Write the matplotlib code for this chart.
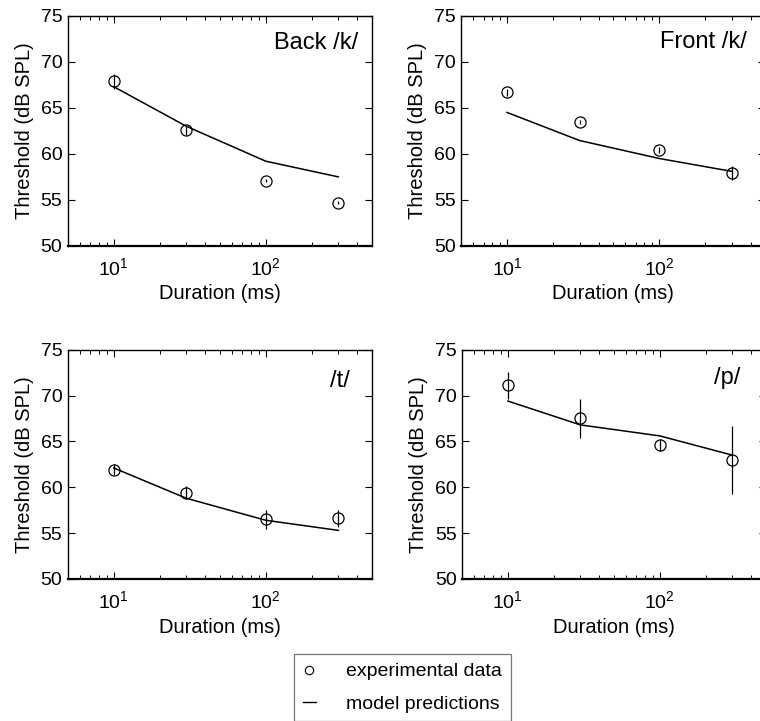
import numpy as np
import matplotlib
matplotlib.use('Agg')
import matplotlib.pyplot as plt
from matplotlib.lines import Line2D

plt.rcParams['font.family'] = ['Liberation Sans', 'DejaVu Sans']
plt.rcParams['mathtext.fontset'] = 'custom'
plt.rcParams['mathtext.rm'] = 'Liberation Sans'
plt.rcParams['mathtext.default'] = 'regular'

# === Data ===
durations = [10, 30, 100, 300]
panel_titles = ['Back /k/', 'Front /k/', '/t/', '/p/']

back_k_data = [67.9, 62.6, 57.1, 54.7]
back_k_err = [0.8, 0.5, 0.2, 0.2]
back_k_model = [67.3, 63.0, 59.2, 57.5]

front_k_data = [66.7, 63.5, 60.4, 57.9]
front_k_err = [0.4, 0.2, 0.3, 0.75]
front_k_model = [64.5, 61.45, 59.5, 58.1]

t_data = [61.9, 59.4, 56.5, 56.6]
t_err = [0.6, 0.7, 1.0, 0.9]
t_model = [62.1, 58.8, 56.4, 55.3]

p_data = [71.1, 67.5, 64.6, 63.0]
p_err = [1.5, 2.15, 0.7, 3.7]
p_model = [69.4, 66.8, 65.6, 63.5]

yticks = [50, 55, 60, 65, 70, 75]

panels = [
    (back_k_data, back_k_err, back_k_model),
    (front_k_data, front_k_err, front_k_model),
    (t_data, t_err, t_model),
    (p_data, p_err, p_model),
]

# axes rectangles [left, bottom, width, height] in figure fractions
rects = [
    [0.0895, 0.659, 0.400, 0.319],
    [0.607, 0.659, 0.400, 0.319],
    [0.0895, 0.197, 0.400, 0.318],
    [0.608, 0.197, 0.400, 0.318],
]
label_pos = [(0.954, 0.883), (0.94, 0.885), (0.928, 0.862), (0.915, 0.878)]

fig = plt.figure(figsize=(7.6, 7.21), dpi=100)

for (data, err, model), rect, title, lp in zip(panels, rects, panel_titles, label_pos):
    ax = fig.add_axes(rect)
    ax.plot(durations, model, color='black', lw=1.1)
    ax.errorbar(durations, data, yerr=err, fmt='o', mfc='none', mec='black',
                ecolor='black', elinewidth=0.9, capsize=0, ms=8, mew=0.9)
    ax.set_xscale('log')
    ax.set_xlim(5, 500)
    ax.set_ylim(50, 75)
    ax.set_yticks(yticks)
    ax.tick_params(which='both', direction='in', top=True, right=True, labelsize=14)
    ax.tick_params(which='major', length=5, width=0.8)
    ax.tick_params(which='minor', length=3, width=0.7)
    ax.tick_params(axis='x', pad=8)
    ax.tick_params(axis='y', pad=4)
    for s in ax.spines.values():
        s.set_linewidth(1.0)
    ax.spines['bottom'].set_linewidth(1.6)
    ax.set_xlabel('Duration (ms)', fontsize=14.5, labelpad=4)
    ax.set_ylabel('Threshold (dB SPL)', fontsize=14.5, labelpad=5)
    ax.text(lp[0], lp[1], title, transform=ax.transAxes, ha='right', va='center',
            fontsize=17)

handles = [
    Line2D([], [], ls='none', marker='o', mfc='none', mec='black', ms=6, mew=0.8),
    Line2D([], [], color='black', lw=1.0),
]
leg = fig.legend(handles, ['experimental data', 'model predictions'],
                 loc='upper left', bbox_to_anchor=(294 / 760, 1 - 654 / 721),
                 borderaxespad=0, fontsize=14, frameon=True, fancybox=False,
                 handlelength=0.67, handletextpad=1.55, borderpad=0.45,
                 labelspacing=0.75)
leg.get_frame().set_edgecolor('#555555')
leg.get_frame().set_linewidth(0.9)

fig.savefig('out.png', dpi=100)
